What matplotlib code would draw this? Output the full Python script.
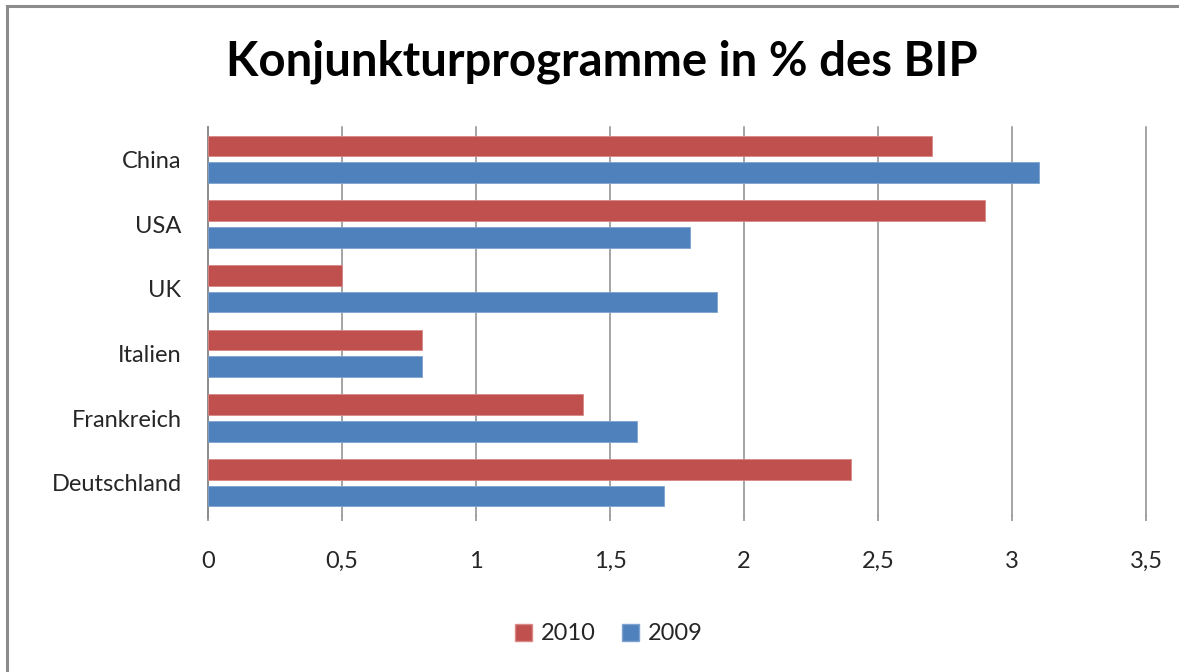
import matplotlib
matplotlib.use("Agg")
import matplotlib.pyplot as plt
from matplotlib.patches import Rectangle, Patch
from matplotlib.ticker import FuncFormatter, MultipleLocator
import numpy as np

plt.rcParams['font.family'] = ['Lato', 'DejaVu Sans']

title = "Konjunkturprogramme in % des BIP"
categories = ["China", "USA", "UK", "Italien", "Frankreich", "Deutschland"]
values_2010 = [2.7, 2.9, 0.5, 0.8, 1.4, 2.4]
values_2009 = [3.1, 1.8, 1.9, 0.8, 1.6, 1.7]
series_labels = ["2010", "2009"]
red = "#C0504D"
blue = "#4F81BD"

W, H = 1179, 672
fig = plt.figure(figsize=(W / 100, H / 100), dpi=100)
fig.patch.set_facecolor("white")

# outer frame (left and top visible)
fig.add_artist(Rectangle((7.5 / W, -0.05), 1.1, (H - 5.5) / H + 0.05,
                         transform=fig.transFigure, fill=False,
                         edgecolor="#8c8c8c", linewidth=2.2))

ax = fig.add_axes([208 / W, (H - 515) / H, (1146 - 208) / W, (515 - 127) / H])

y = np.arange(len(categories))
off = 0.207
h = 0.32
ax.barh(y - off, values_2010, height=h, color=red, edgecolor="#d98886", linewidth=0.6, zorder=3)
ax.barh(y + off, values_2009, height=h, color=blue, edgecolor="#7ea3d0", linewidth=0.6, zorder=3)

ax.set_xlim(0, 3.5)
ax.set_ylim(len(categories) - 0.5, -0.5)
ax.xaxis.set_major_locator(MultipleLocator(0.5))
ax.xaxis.set_major_formatter(FuncFormatter(lambda v, p: ("%g" % v).replace(".", ",")))
ax.set_yticks(y)
ax.set_yticklabels(categories)

ax.grid(axis="x", color="#8c8c8c", linewidth=1.1)
for gl in ax.get_xgridlines():
    gl.set_clip_on(False)
ax.set_axisbelow(True)
for s in ["top", "right", "bottom"]:
    ax.spines[s].set_visible(False)
ax.spines["left"].set_color("#8c8c8c")
ax.spines["left"].set_linewidth(1.3)
ax.spines["left"].set_bounds(len(categories) - 0.5 + 0.04, -0.5)
ax.tick_params(axis="x", length=4, color="#8c8c8c", width=1.1, labelsize=17,
               labelcolor="#262626", pad=22)
ax.tick_params(axis="y", length=0, labelsize=17, labelcolor="#262626", pad=19)

fig.text(602 / W, 1 - 62 / H, title, ha="center", va="center",
         fontsize=34, fontweight="bold", color="black")

handles = [Patch(facecolor=red, edgecolor="#d98886"), Patch(facecolor=blue, edgecolor="#7ea3d0")]
fig.legend(handles, series_labels, loc="center", bbox_to_anchor=(609 / W, 1 - 634 / H),
           ncol=2, frameon=False, fontsize=17, handlelength=0.7, handleheight=0.7,
           handletextpad=0.4, columnspacing=1.1, labelcolor="#262626")

fig.savefig("out.png", dpi=100)
